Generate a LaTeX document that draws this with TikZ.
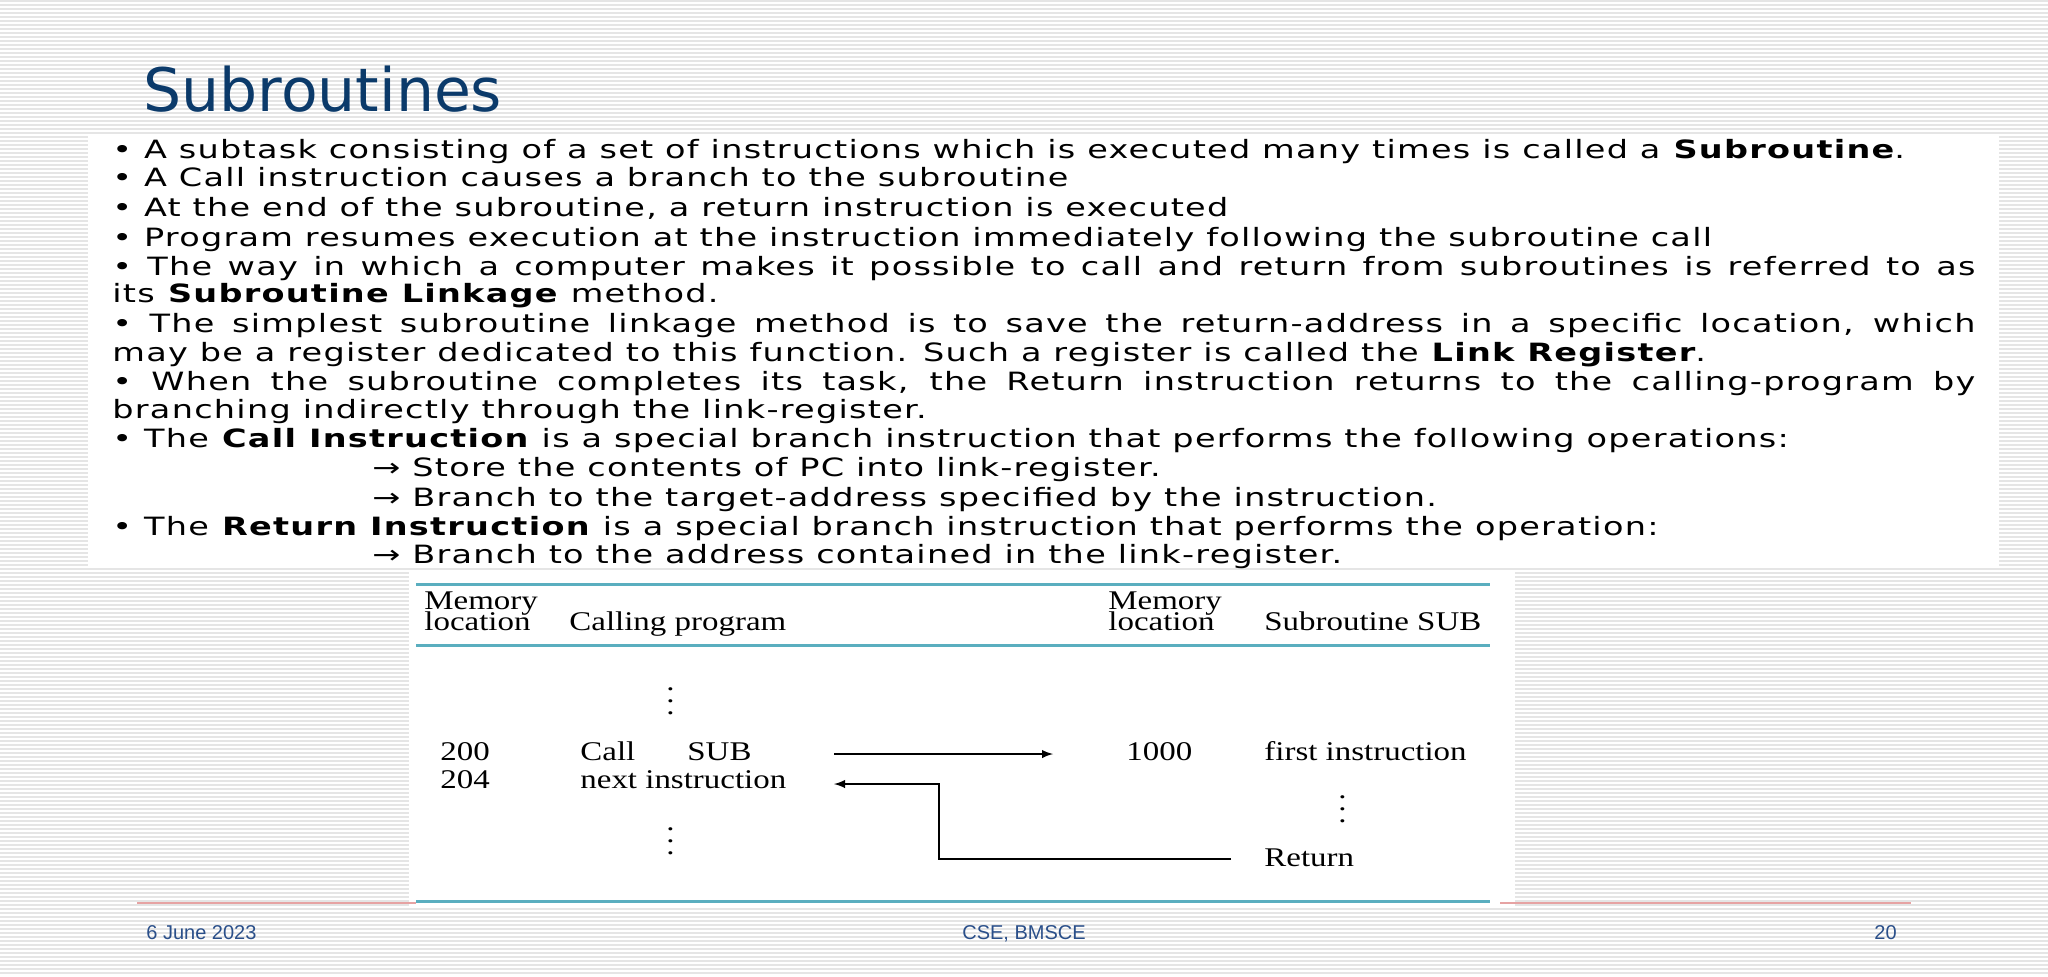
\documentclass[tikz,border=0pt]{standalone}
\usepackage{fontspec}
\setmainfont{DejaVu Sans}[FakeStretch=1.33,LetterSpace=5]
\newfontfamily\ttl{DejaVu Sans}
\newfontfamily\tms{Liberation Serif}[FakeStretch=1.22]
\newfontfamily\ars{Liberation Sans}
\definecolor{titleblue}{HTML}{0B3A6A}
\definecolor{rulecol}{HTML}{5AAEBF}
\definecolor{footpink}{HTML}{E6A3A3}
\definecolor{footblue}{HTML}{2A4F8A}
\begin{document}
\begin{tikzpicture}[x=0.5pt,y=-0.5pt,
  bl/.style={anchor=base west,inner sep=0pt,font=\fontsize{12.6}{13}\selectfont},
  tb/.style={anchor=base west,inner sep=0pt,font=\tms\fontsize{13.5}{13}\selectfont},
  trule/.style={rulecol,line width=1.5pt},
  ft/.style={anchor=base,inner sep=0pt,text=footblue,font=\ars\fontsize{10}{12}\selectfont}]
\useasboundingbox (0,0) rectangle (2048,976);
\fill[white] (0,0) rectangle (2048,976);
\foreach \i in {0,...,243} \draw[black!10,line width=1pt] (0,\i*4+1) -- (2048,\i*4+1);
\node[anchor=base west,inner sep=0pt,text=titleblue,font=\ttl\fontsize{30}{30}\selectfont] (title) at (143,111) {Subroutines};
\fill[white] (88,136) rectangle (1999,568);
\def\W{931.5pt}
\node[bl] (l1) at (112,158) {• A subtask consisting of a set of instructions which is executed many times is called a \textbf{Subroutine}.};
\node[bl] (l2) at (112,186) {• A Call instruction causes a branch to the subroutine};
\node[bl] (l3) at (112,216) {• At the end of the subroutine, a return instruction is executed};
\node[bl] (l4) at (112,246) {• Program resumes execution at the instruction immediately following the subroutine call};
\node[bl] (l5) at (112,275) {\makebox[\W][s]{• The way in which a computer makes it possible to call and return from subroutines is referred to as}};
\node[bl] (l6) at (112,302) {its \textbf{Subroutine Linkage} method.};
\node[bl] (l7) at (112,332) {\makebox[\W][s]{• The simplest subroutine linkage method is to save the return-address in a specific location, which}};
\node[bl] (l8) at (112,361) {may be a register dedicated to this function. Such a register is called the \textbf{Link Register}.};
\node[bl] (l9) at (112,390) {\makebox[\W][s]{• When the subroutine completes its task, the Return instruction returns to the calling-program by}};
\node[bl] (l10) at (112,418) {branching indirectly through the link-register.};
\node[bl] (l11) at (112,447) {• The \textbf{Call Instruction} is a special branch instruction that performs the following operations:};
\node[bl] (l12) at (372,476) {→ Store the contents of PC into link-register.};
\node[bl] (l13) at (372,506) {→ Branch to the target-address specified by the instruction.};
\node[bl] (l14) at (112,535) {• The \textbf{Return Instruction} is a special branch instruction that performs the operation:};
\node[bl] (l15) at (372,563) {→ Branch to the address contained in the link-register.};
% table
\fill[white] (409,571) rectangle (1515,908);
\draw[trule] (416,584) -- (1490,584);
\draw[trule] (416,645) -- (1490,645);
\draw[trule] (416,901) -- (1490,901);
\node[tb] (h1a) at (424,609) {Memory};
\node[tb] (h1b) at (424,630) {location};
\node[tb] (h2) at (569,630) {Calling program};
\node[tb] (h3a) at (1108,609) {Memory};
\node[tb] (h3b) at (1108,630) {location};
\node[tb] (h4) at (1264,630) {Subroutine SUB};
\node[tb] (d1) at (666,690) {.};
\node[tb] (d2) at (666,702) {.};
\node[tb] (d3) at (666,714) {.};
\node[tb] (a1) at (440,760) {200};
\node[tb] (a2) at (440,788) {204};
\node[tb] (c1) at (580,760) {Call};
\node[tb] (c2) at (687,760) {SUB};
\node[tb] (c3) at (580,788) {next instruction};
\node[tb] (d4) at (666,830) {.};
\node[tb] (d5) at (666,842) {.};
\node[tb] (d6) at (666,854) {.};
\node[tb] (m1) at (1126,760) {1000};
\node[tb] (s1) at (1264,760) {first instruction};
\node[tb] (d7) at (1338,798) {.};
\node[tb] (d8) at (1338,810) {.};
\node[tb] (d9) at (1338,822) {.};
\node[tb] (s2) at (1264,866) {Return};
\coordinate (p1) at (834,754);
\coordinate (p2) at (1053,754);
\draw[line width=0.9pt,-latex] (p1) -- (p2);
\coordinate (r0) at (1231,859);
\coordinate (r1) at (939,859);
\coordinate (r2) at (939,784);
\coordinate (r3) at (834,784);
\draw[line width=0.9pt,-latex] (r0) -- (r1) -- (r2) -- (r3);
% footer
\draw[footpink,line width=0.8pt] (137,903) -- (416,903);
\draw[footpink,line width=0.8pt] (1500,903) -- (1911,903);
\node[ft,anchor=base west] (f1) at (146,939) {6 June 2023};
\node[ft] (f2) at (1024,939) {CSE, BMSCE};
\node[ft,anchor=base east] (f3) at (1897,939) {20};
\end{tikzpicture}
\end{document}
